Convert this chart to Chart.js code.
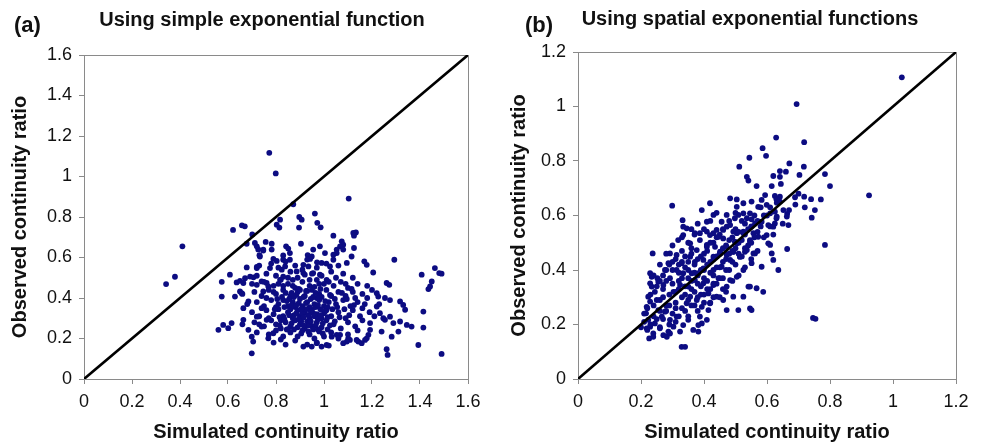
<!DOCTYPE html>
<html><head><meta charset="utf-8">
<script src="https://cdn.jsdelivr.net/npm/chart.js@4"></script>
<style>
html,body{margin:0;padding:0;background:#fff;width:983px;height:446px;overflow:hidden;font-family:"Liberation Sans",Arial,sans-serif;}
.wrap{position:absolute;top:0;height:446px;}
#wa{left:0;width:490px}
#wb{left:490px;width:493px}
.lbl{position:absolute;font-weight:bold;color:#111;white-space:nowrap;}
.ttl{text-align:center;width:420px;font-size:20px;line-height:20px;}
.pl{font-size:22px;line-height:22px;}
</style></head><body>
<div class="wrap" id="wa"><canvas id="ca" width="490" height="446"></canvas></div>
<div class="wrap" id="wb"><canvas id="cb" width="493" height="446"></canvas></div>
<div class="lbl pl" style="left:14px;top:14px">(a)</div>
<div class="lbl ttl" style="left:52px;top:9px">Using simple exponential function</div>
<div class="lbl pl" style="left:525px;top:14px">(b)</div>
<div class="lbl ttl" style="left:540px;top:8px">Using spatial exponential functions</div>
<script>
const panelATitle = 'Using simple exponential function';
const panelBTitle = 'Using spatial exponential functions';
const xTitle = 'Simulated continuity ratio';
const yTitle = 'Observed continuity ratio';

const ticksA = [0,0.2,0.4,0.6,0.8,1,1.2,1.4,1.6];
const tickLabelsA = ['0','0.2','0.4','0.6','0.8','1','1.2','1.4','1.6'];
const ticksB = [0,0.2,0.4,0.6,0.8,1,1.2];
const tickLabelsB = ['0','0.2','0.4','0.6','0.8','1','1.2'];

// ---- Panel (a): simple exponential function — [simulated, observed]
const pointsAOuter = [
[0.772,1.117],[0.799,1.015],[1.103,0.891],[0.872,0.863],[0.897,0.800],[0.962,0.817],[0.972,0.771],[0.986,0.749],[0.896,0.748],[0.803,0.762],[0.814,0.748],[0.817,0.787],[0.907,0.787],
[0.658,0.759],[0.670,0.754],[0.621,0.736],[0.701,0.714],[0.678,0.668],[0.712,0.672],[0.410,0.655],[0.379,0.505],[0.342,0.469],
[0.757,0.677],[0.782,0.668],[0.747,0.634],[0.731,0.611],[0.726,0.640],[0.782,0.639],[0.789,0.593],[0.803,0.583],[0.842,0.655],[0.851,0.644],[0.830,0.610],[0.858,0.622],[0.904,0.668],[0.932,0.612],[0.942,0.593],[0.971,0.576],[1.004,0.622],[0.983,0.655],
[0.678,0.551],[0.720,0.553],[0.608,0.515],[0.574,0.480],[0.636,0.477],[0.650,0.485],[0.664,0.474],[0.671,0.498],[0.692,0.506],[0.706,0.502],[0.740,0.482],[0.761,0.474],[0.720,0.465],[0.768,0.457],[0.747,0.432],[0.824,0.540],[0.817,0.490],[0.886,0.531],[0.914,0.523],[0.914,0.564],[0.955,0.523],[0.983,0.515],[1.011,0.490],
[0.574,0.407],[0.650,0.432],[0.629,0.407],[0.657,0.424],[0.664,0.350],[0.685,0.383],
[1.133,0.724],[1.122,0.721],[1.125,0.708],[1.039,0.708],[1.074,0.680],[1.080,0.663],[1.067,0.655],[1.053,0.639],[1.080,0.639],[1.125,0.647],[1.053,0.622],[1.039,0.614],[1.115,0.605],[1.095,0.573],
[0.720,0.655],[0.747,0.639],[0.949,0.605],[0.955,0.639],[0.733,0.605],[0.858,0.589],[0.830,0.589],
[1.168,0.581],[1.178,0.564],[1.293,0.589],[0.720,0.548],[0.775,0.548],[0.838,0.556],[0.935,0.556],[0.990,0.573],[1.025,0.556],[1.039,0.589],
[1.205,0.526],[1.407,0.515],[1.462,0.548],[1.480,0.523],[1.490,0.520],[1.449,0.482],[1.442,0.457],[1.435,0.444],[1.261,0.474],[1.272,0.465],[1.220,0.424],[1.226,0.407],[1.254,0.400],[1.275,0.390],[1.317,0.383],[1.330,0.366],[1.338,0.342],[1.414,0.333],[1.220,0.358],[1.233,0.325],[1.247,0.300],[1.275,0.308],[1.254,0.292],[1.289,0.276],[1.317,0.284],[1.345,0.267],[1.365,0.259],[1.414,0.254],[1.310,0.234],[1.240,0.234],[1.282,0.209],[1.393,0.168],[1.261,0.147],[1.265,0.119],[1.490,0.124],
[1.192,0.243],[1.192,0.276],[1.185,0.218],[1.178,0.201],[1.171,0.193],[1.157,0.177],[1.143,0.185],[1.136,0.193],[1.108,0.193],[1.101,0.201],[1.095,0.185],[1.080,0.177],[1.067,0.218],[1.053,0.218],[1.032,0.209],[1.011,0.168],[0.990,0.160],[0.970,0.177],[0.949,0.160],[0.914,0.160],
[0.699,0.209],[0.705,0.185],[0.699,0.127],[0.685,0.243],[0.664,0.292],[0.560,0.243],[0.580,0.267],[0.615,0.276],[0.601,0.251],[0.720,0.308],[0.740,0.259],[0.761,0.292],[0.768,0.201],[0.789,0.226]
];
const pointsACore = [
[0.78,0.57],[0.84,0.58],[0.88,0.56],[0.93,0.59],[0.97,0.55],[1.01,0.57],[1.06,0.56],[0.73,0.56],[0.81,0.55],[0.91,0.54],
[0.76,0.52],[0.80,0.51],[0.86,0.53],[0.89,0.50],[0.95,0.52],[0.99,0.51],[1.03,0.53],[1.08,0.52],[1.12,0.50],[0.72,0.51],[0.83,0.505],[0.92,0.515],
[0.70,0.47],[0.75,0.48],[0.79,0.46],[0.82,0.49],[0.85,0.47],[0.88,0.45],[0.91,0.48],[0.94,0.46],[0.97,0.49],[1.00,0.47],[1.04,0.46],[1.07,0.48],[1.10,0.45],[1.14,0.47],[1.18,0.46],[0.87,0.49],[0.96,0.455],
[0.66,0.42],[0.71,0.43],[0.74,0.41],[0.77,0.44],[0.80,0.42],[0.83,0.44],[0.86,0.41],[0.89,0.43],[0.92,0.41],[0.95,0.44],[0.98,0.42],[1.01,0.44],[1.03,0.41],[1.06,0.43],[1.09,0.41],[1.12,0.43],[1.16,0.42],[1.20,0.44],[0.84,0.425],[0.93,0.435],[0.99,0.405],
[0.68,0.37],[0.72,0.38],[0.75,0.36],[0.78,0.39],[0.81,0.37],[0.83,0.39],[0.85,0.36],[0.87,0.38],[0.90,0.395],[0.91,0.36],[0.93,0.38],[0.96,0.37],[0.98,0.39],[1.00,0.36],[1.02,0.38],[1.05,0.37],[1.08,0.39],[1.11,0.36],[1.14,0.38],[1.17,0.37],[0.88,0.355],[0.94,0.355],[0.97,0.40],[0.80,0.355],
[0.70,0.33],[0.73,0.31],[0.76,0.34],[0.79,0.32],[0.81,0.345],[0.83,0.31],[0.85,0.33],[0.87,0.30],[0.89,0.34],[0.90,0.31],[0.92,0.33],[0.94,0.30],[0.95,0.345],[0.97,0.32],[0.99,0.30],[1.01,0.34],[1.03,0.31],[1.06,0.33],[1.09,0.30],[1.12,0.34],[1.15,0.31],[1.19,0.33],[0.86,0.345],[0.91,0.325],[0.96,0.31],[1.00,0.325],
[0.66,0.27],[0.71,0.28],[0.75,0.26],[0.78,0.29],[0.80,0.27],[0.82,0.25],[0.84,0.28],[0.86,0.26],[0.88,0.29],[0.90,0.27],[0.92,0.25],[0.93,0.285],[0.95,0.26],[0.97,0.28],[0.99,0.255],[1.01,0.29],[1.04,0.27],[1.07,0.25],[1.10,0.28],[1.13,0.26],[1.16,0.29],[0.89,0.255],[0.94,0.275],[0.82,0.29],
[0.72,0.23],[0.77,0.22],[0.80,0.24],[0.83,0.21],[0.86,0.23],[0.89,0.21],[0.91,0.24],[0.94,0.22],[0.96,0.20],[0.98,0.235],[1.00,0.21],[1.03,0.23],[1.06,0.20],[1.10,0.22],[1.14,0.24],[0.85,0.245],
[0.79,0.18],[0.84,0.17],[0.88,0.19],[0.93,0.17],[0.97,0.18],[1.02,0.165],[0.82,0.195],
[0.855,0.395],[0.875,0.315],[0.895,0.375],[0.905,0.285],[0.915,0.405],[0.925,0.345],[0.935,0.265],[0.945,0.395],[0.955,0.325],[0.965,0.355],[0.975,0.295],[0.985,0.345],[0.865,0.275],[0.885,0.415],[0.815,0.305],[0.835,0.355],[0.845,0.245],[1.015,0.355],[1.025,0.265],[1.045,0.395],
[0.805,0.395],[0.825,0.405],[0.845,0.385],[0.865,0.365],[0.875,0.405],[0.885,0.325],[0.895,0.295],[0.905,0.345],[0.915,0.265],[0.925,0.375],[0.935,0.315],[0.945,0.285],[0.955,0.405],[0.965,0.265],[0.975,0.365],[0.985,0.315],[0.995,0.275],[1.005,0.385],[1.015,0.305],[1.025,0.415],[1.035,0.345],[1.045,0.285],[1.055,0.355],[1.065,0.305],[1.075,0.425],[1.085,0.345],[1.095,0.395],[1.105,0.315],[1.115,0.445],[1.125,0.365],
[0.795,0.345],[0.815,0.265],[0.835,0.295],[0.855,0.315],[0.865,0.425],[0.875,0.245],[0.885,0.365],[0.895,0.445],[0.905,0.225],[0.915,0.305],[0.925,0.435],[0.935,0.235],[0.945,0.335],[0.955,0.245],[0.965,0.425],[0.975,0.245],[0.985,0.445],[0.995,0.225],[1.005,0.335],[1.015,0.245],
[0.76,0.40],[0.74,0.35],[0.77,0.30],[0.73,0.27],[0.79,0.43],[0.81,0.47],[0.83,0.46],[0.85,0.50],[0.87,0.46],[0.90,0.44],[0.94,0.49],[0.98,0.47],[1.02,0.48],[1.05,0.50],[1.09,0.47],[1.13,0.40],[1.16,0.35],[1.18,0.40],[1.21,0.31],[1.23,0.37]
];

// ---- Panel (b): spatial exponential functions — [simulated, observed]
const pointsBOuter = [
[1.028,1.107],[0.694,1.009],[0.629,0.886],[0.718,0.869],[0.586,0.847],[0.597,0.819],[0.544,0.812],[0.512,0.779],[0.671,0.791],[0.717,0.779],[0.641,0.763],[0.660,0.761],[0.620,0.745],[0.641,0.742],[0.703,0.749],[0.784,0.752],[0.536,0.742],[0.541,0.728],[0.567,0.708],[0.615,0.708],[0.644,0.716],[0.800,0.708],[0.924,0.674],
[0.594,0.675],[0.625,0.672],[0.641,0.669],[0.689,0.667],[0.718,0.669],[0.771,0.659],[0.483,0.663],[0.504,0.659],[0.525,0.645],[0.551,0.651],[0.583,0.657],[0.599,0.639],[0.572,0.632],[0.631,0.647],[0.641,0.651],[0.752,0.620],[0.742,0.592],[0.784,0.492],[0.664,0.606],[0.668,0.565],[0.664,0.477],
[0.419,0.645],[0.393,0.620],[0.430,0.602],[0.409,0.577],[0.456,0.577],[0.472,0.602],[0.504,0.632],[0.509,0.602],[0.525,0.608],[0.546,0.608],[0.536,0.590],[0.551,0.586],[0.583,0.577],[0.604,0.565],[0.625,0.571],[0.631,0.596],[0.610,0.608],[0.625,0.614],
[0.387,0.535],[0.409,0.541],[0.430,0.535],[0.446,0.522],[0.461,0.547],[0.493,0.541],[0.504,0.535],[0.525,0.541],[0.498,0.504],[0.546,0.504],[0.557,0.535],[0.572,0.522],[0.599,0.528],[0.604,0.498],[0.615,0.461],[0.562,0.461],[0.530,0.467],[0.514,0.449],[0.493,0.467],[0.472,0.455],[0.451,0.467],[0.435,0.485],[0.409,0.485],
[0.299,0.636],[0.332,0.583],[0.334,0.559],[0.652,0.620],[0.663,0.596],[0.620,0.559],[0.472,0.559],[0.483,0.565],[0.498,0.590],[0.562,0.571],
[0.237,0.461],[0.329,0.118],[0.340,0.118],[0.229,0.388],[0.234,0.375],[0.229,0.351],[0.234,0.339],[0.252,0.370],[0.223,0.302],[0.229,0.284],[0.218,0.265],[0.216,0.241],[0.223,0.217],[0.229,0.192],[0.226,0.149],[0.239,0.167],[0.244,0.204],[0.260,0.186],[0.282,0.155],[0.292,0.167],[0.266,0.229],[0.255,0.253],[0.276,0.247],[0.292,0.217],[0.303,0.192],[0.313,0.229],[0.334,0.198],[0.324,0.174],[0.350,0.217],[0.366,0.180],[0.382,0.174],[0.393,0.204],[0.387,0.229],[0.409,0.217],[0.414,0.253],
[0.218,0.186],[0.239,0.155],[0.271,0.161],[0.287,0.174],[0.382,0.198],[0.546,0.259],[0.541,0.339],[0.567,0.333],
[0.292,0.461],[0.313,0.455],[0.287,0.425],[0.276,0.400],[0.255,0.357],[0.271,0.345],[0.244,0.320],[0.292,0.370],[0.313,0.400],[0.329,0.425],[0.334,0.388],[0.324,0.345],[0.303,0.320],
[0.610,0.492],[0.620,0.437],[0.636,0.400],[0.583,0.412],[0.588,0.320],[0.546,0.339],[0.551,0.253],[0.509,0.253],[0.525,0.302],[0.493,0.302],[0.472,0.253],[0.746,0.224],[0.754,0.221]
];
const pointsBCore = [
[0.318,0.51],[0.334,0.528],[0.345,0.553],[0.371,0.535],[0.387,0.51],[0.356,0.498],[0.377,0.473],[0.409,0.492],[0.419,0.528],[0.44,0.547],[0.461,0.516],[0.472,0.485],[0.451,0.461],[0.43,0.449],[0.398,0.437],[0.371,0.43],[0.356,0.449],[0.398,0.406],[0.43,0.40],[0.456,0.412],[0.483,0.437],[0.493,0.467],[0.504,0.498],[0.525,0.535],[0.546,0.51],[0.536,0.473],[0.514,0.449],[0.557,0.461],[0.551,0.425],[0.525,0.40],[0.504,0.375],[0.483,0.363],[0.472,0.339],[0.446,0.37],[0.43,0.345],[0.414,0.314],[0.44,0.302],[0.461,0.29],[0.419,0.278],[0.393,0.265],[0.377,0.29],[0.356,0.302],[0.345,0.278],[0.35,0.339],[0.371,0.363],[0.398,0.351],[0.382,0.388],[0.361,0.388],
[0.26,0.29],[0.27,0.33],[0.28,0.27],[0.29,0.31],[0.30,0.35],[0.31,0.28],[0.32,0.33],[0.33,0.30],[0.33,0.37],[0.34,0.34],[0.35,0.29],[0.35,0.40],[0.36,0.36],[0.37,0.32],[0.37,0.42],[0.38,0.38],[0.39,0.34],[0.39,0.45],[0.40,0.40],[0.41,0.36],[0.41,0.47],[0.42,0.43],[0.43,0.38],[0.43,0.50],[0.44,0.45],[0.45,0.41],[0.45,0.53],[0.46,0.48],[0.47,0.44],[0.48,0.51],[0.49,0.47],[0.50,0.55],[0.51,0.50],[0.52,0.58],[0.53,0.53],[0.54,0.49],[0.55,0.56],[0.56,0.60],[0.57,0.54],[0.58,0.63],
[0.24,0.27],[0.25,0.34],[0.27,0.38],[0.29,0.42],[0.31,0.44],[0.33,0.47],[0.35,0.50],[0.37,0.53],[0.36,0.46],[0.34,0.41],[0.32,0.39],[0.30,0.40],[0.28,0.36],[0.26,0.25],[0.30,0.24],[0.33,0.26],[0.36,0.27],[0.38,0.30],[0.40,0.31],[0.42,0.33],[0.44,0.35],[0.46,0.37],[0.48,0.40],[0.50,0.42],[0.52,0.45],[0.38,0.25],[0.35,0.23],[0.31,0.21],[0.27,0.22],[0.24,0.23],[0.22,0.26],[0.21,0.21],[0.20,0.19],[0.22,0.18],[0.42,0.28],[0.45,0.30],[0.47,0.32],[0.49,0.36],[0.51,0.38],[0.53,0.41],[0.55,0.44],[0.57,0.47],[0.59,0.52],[0.61,0.56],[0.63,0.59],[0.60,0.60],[0.62,0.53],[0.65,0.57],[0.67,0.62],[0.69,0.64],[0.70,0.68],[0.72,0.63],[0.74,0.66],[0.40,0.55],[0.42,0.58],[0.44,0.61],[0.38,0.57],[0.36,0.55],[0.33,0.52],[0.30,0.49],[0.28,0.46],[0.26,0.42],[0.24,0.38],
[0.23,0.31],[0.25,0.29],[0.27,0.30],[0.29,0.27],[0.31,0.32],[0.32,0.36],[0.34,0.31],[0.36,0.33],[0.38,0.35],[0.39,0.40],[0.40,0.37],[0.41,0.42],[0.42,0.39],[0.43,0.44],[0.44,0.41],[0.45,0.46],[0.46,0.43],[0.47,0.49],[0.48,0.46],[0.49,0.52],[0.50,0.48],[0.51,0.54],[0.52,0.51],[0.53,0.57],[0.54,0.55],[0.56,0.52],[0.58,0.56],[0.59,0.60],[0.61,0.63],[0.63,0.66],
[0.26,0.36],[0.28,0.40],[0.30,0.43],[0.32,0.42],[0.34,0.45],[0.36,0.48],[0.38,0.44],[0.40,0.46],[0.42,0.50],[0.44,0.52],[0.46,0.55],[0.48,0.58],[0.50,0.61],[0.35,0.37],[0.37,0.39],[0.39,0.31],[0.41,0.33],[0.43,0.35],[0.45,0.37],[0.47,0.40],[0.49,0.43],[0.51,0.46],[0.53,0.48],[0.55,0.50],[0.57,0.58],[0.25,0.22],[0.28,0.25],[0.31,0.26],[0.34,0.25],[0.37,0.27],[0.40,0.28],[0.43,0.30],[0.46,0.33],[0.29,0.20],[0.32,0.23],[0.21,0.24],[0.23,0.20],[0.26,0.19],[0.35,0.43],[0.33,0.43]
];

const FONT = '"Liberation Sans", Arial, sans-serif';
const POINT_COLOR = '#0c0c82';
const AXIS_COLOR = '#8a8a8a';

const framePlugin = {
  id: 'frame',
  beforeDatasetsDraw(chart) {
    const a = chart.chartArea, c = chart.ctx;
    c.save();
    c.strokeStyle = AXIS_COLOR; c.lineWidth = 1;
    c.strokeRect(Math.round(a.left) + 0.5, Math.round(a.top) + 0.5, Math.round(a.right - a.left), Math.round(a.bottom - a.top));
    c.restore();
  }
};

function makeChart(id, pts, maxV, tickVals, tickLabels, geo) {
  const ctx = document.getElementById(id).getContext('2d');
  const axisCommon = (isX) => ({
    type: 'linear', min: 0, max: maxV,
    afterBuildTicks: s => { s.ticks = tickVals.map(v => ({ value: v })); },
    border: { display: false },
    grid: { display: true, drawOnChartArea: false, drawTicks: true, tickLength: 5, color: AXIS_COLOR, lineWidth: 1 },
    ticks: { font: { family: FONT, size: 18 }, color: '#111', padding: 7, maxRotation: 0, autoSkip: false,
      callback: (v, i) => tickLabels[i] },
    title: { display: true, text: isX ? xTitle : yTitle, color: '#111',
      font: { family: FONT, size: 20, weight: 'bold' },
      padding: isX ? { top: 0, bottom: geo.xTitlePad } : { top: geo.yTitlePad, bottom: 0 } }
  });
  const xs = axisCommon(true); xs.afterFit = s => { s.height = geo.xH; };
  const ys = axisCommon(false); ys.afterFit = s => { s.width = geo.yW; };
  return new Chart(ctx, {
    type: 'scatter',
    data: {
      datasets: [
        { type: 'line', data: [{ x: 0, y: 0 }, { x: maxV, y: maxV }], borderColor: '#000', borderWidth: 2.6, pointRadius: 0, fill: false, tension: 0 },
        { type: 'scatter', data: pts.map(p => ({ x: p[0], y: p[1] })), pointRadius: 2.9, pointBackgroundColor: POINT_COLOR, pointBorderWidth: 0, pointStyle: 'circle' }
      ]
    },
    options: {
      responsive: false, animation: false, devicePixelRatio: 1, events: [],
      layout: { padding: geo.pad },
      plugins: { legend: { display: false }, tooltip: { enabled: false }, title: { display: false } },
      scales: { x: xs, y: ys }
    },
    plugins: [framePlugin]
  });
}

makeChart('ca', pointsAOuter.concat(pointsACore), 1.6, ticksA, tickLabelsA,
  { pad: { left: 0, top: 55, right: 22, bottom: 0 }, xH: 67, yW: 84, xTitlePad: 2, yTitlePad: 8 });
makeChart('cb', pointsBOuter.concat(pointsBCore), 1.2, ticksB, tickLabelsB,
  { pad: { left: 0, top: 52, right: 27, bottom: 0 }, xH: 67, yW: 88, xTitlePad: 2, yTitlePad: 17 });
</script>
</body></html>
